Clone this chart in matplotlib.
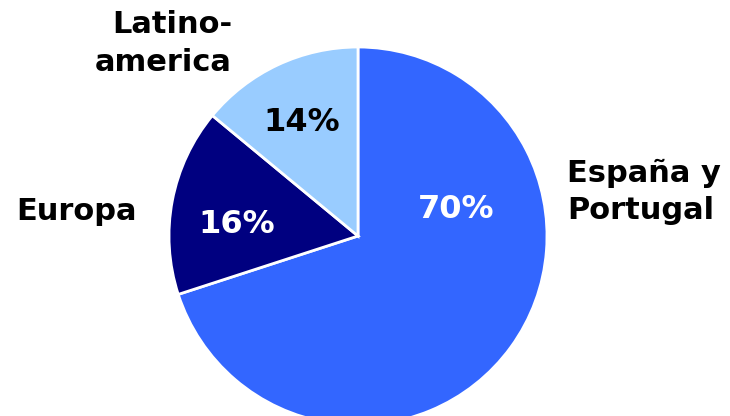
import matplotlib.pyplot as plt

regions = ["España y\nPortugal", "Europa", "Latino-\namerica"]
shares = [70, 16, 14]
colors = ["#3366FF", "#000080", "#99CCFF"]
pct_colors = ["white", "white", "black"]

# label placement in pie-radius units (centre at 0, 0)
label_pos = [(1.106, 0.233), (-1.169, 0.132), (-0.667, 1.02)]
label_ha = ["left", "right", "right"]
pct_pos = [(0.52, 0.14), (-0.64, 0.06), (-0.30, 0.60)]

fig = plt.figure(figsize=(7.3, 4.16), dpi=100)
ax = fig.add_axes([0, 0, 1, 1])

wedges, texts, autotexts = ax.pie(
    shares,
    labels=regions,
    colors=colors,
    startangle=90,
    counterclock=False,
    autopct="%d%%",
    radius=1.0,
    wedgeprops={"edgecolor": "white", "linewidth": 2},
    textprops={"fontsize": 22, "fontweight": "bold", "family": "DejaVu Sans"},
)

for t, pos, ha in zip(texts, label_pos, label_ha):
    t.set_position(pos)
    t.set_ha(ha)
    t.set_multialignment(ha)
    t.set_va("center")
    t.set_color("black")
    t.set_linespacing(1.38)

for t, pos, c in zip(autotexts, pct_pos, pct_colors):
    t.set_position(pos)
    t.set_ha("center")
    t.set_va("center")
    t.set_color(c)
    t.set_fontsize(23)

# pie centre sits at (358, 236) px from the top-left, radius 189 px
r_px = 189
ax.set_xlim(-358 / r_px, (730 - 358) / r_px)
ax.set_ylim(-(416 - 236) / r_px, 236 / r_px)
ax.set_aspect("equal")
ax.axis("off")

fig.savefig("out.png", dpi=100)
